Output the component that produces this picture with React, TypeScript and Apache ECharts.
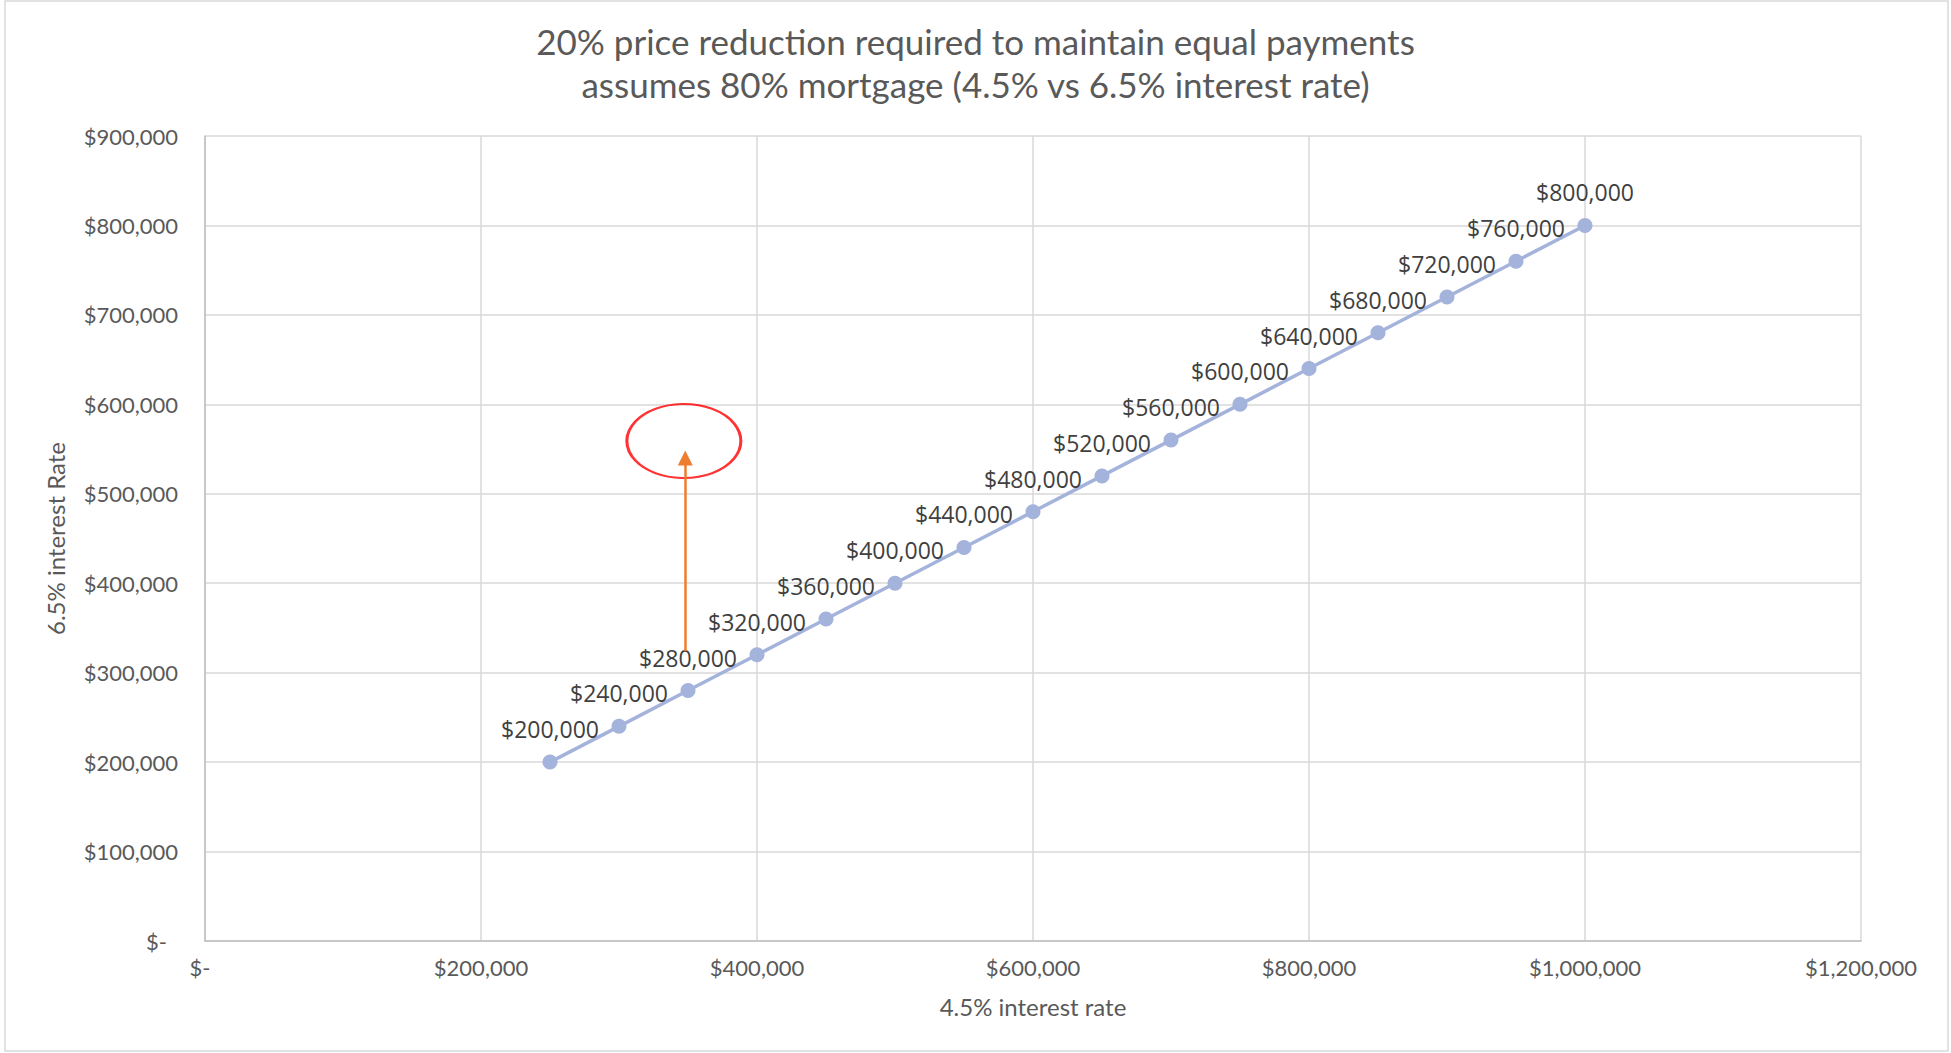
import React, { useEffect, useRef } from "react";
import * as echarts from "echarts";

const titleLines = [
  "20% price reduction required to maintain equal payments",
  "assumes 80% mortgage (4.5% vs 6.5% interest rate)",
];
const xAxisName = "4.5% interest rate";
const yAxisName = "6.5% interest Rate";

// price at 4.5% interest rate
const priceAt45 = [
  250000, 300000, 350000, 400000, 450000, 500000, 550000, 600000,
  650000, 700000, 750000, 800000, 850000, 900000, 950000, 1000000,
];
// equivalent price at 6.5% interest rate
const priceAt65 = [
  200000, 240000, 280000, 320000, 360000, 400000, 440000, 480000,
  520000, 560000, 600000, 640000, 680000, 720000, 760000, 800000,
];

const xAxisRange = { min: 0, max: 1200000, interval: 200000 };
const yAxisRange = { min: 0, max: 900000, interval: 100000 };

// annotation (data coordinates)
const arrowStart = [348000, 324000];
const arrowEnd = [348000, 540000];
const circleCenter = [347000, 559000];

const money = (v: number) => "$" + Math.round(v).toLocaleString("en-US");

export default function App() {
  const ref = useRef<HTMLDivElement>(null);
  useEffect(() => {
    if (!ref.current) return;
    const chart = echarts.init(ref.current, undefined, { renderer: "svg" });
    const points = priceAt45.map((x, i) => [x, priceAt65[i]]);
    const axisFont = { fontFamily: "Lato", fontSize: 22, color: "#595959" };
    chart.setOption({
      animation: false,
      backgroundColor: "#ffffff",
      title: {
        text: titleLines.join("\n"),
        left: "center",
        top: 14,
        textStyle: {
          fontFamily: "Lato",
          fontSize: 35,
          fontWeight: "normal",
          color: "#595959",
          lineHeight: 43,
        },
      },
      graphic: [
        {
          type: "rect",
          shape: { x: 5, y: 1, width: 1943, height: 1050 },
          style: { fill: "none", stroke: "#d9d9d9", lineWidth: 1.5 },
          silent: true,
        },
      ],
      grid: { left: 205, right: 90, top: 136, bottom: 112 },
      xAxis: {
        type: "value",
        ...xAxisRange,
        name: xAxisName,
        nameLocation: "middle",
        nameGap: 53,
        nameTextStyle: { fontFamily: "Lato", fontSize: 24, color: "#595959" },
        axisLine: { show: true, lineStyle: { color: "#bfbfbf", width: 1.5 } },
        axisTick: { show: false },
        splitLine: { show: true, lineStyle: { color: "#d9d9d9", width: 1.5 } },
        axisLabel: {
          margin: 15,
          ...axisFont,
          formatter: (v: number) => (v === 0 ? "{z|$-}" : money(v)),
          rich: { z: { ...axisFont, padding: [0, 10, 0, 0] } },
        },
      },
      yAxis: {
        type: "value",
        ...yAxisRange,
        name: yAxisName,
        nameLocation: "middle",
        nameGap: 138,
        nameTextStyle: { fontFamily: "Lato", fontSize: 24, color: "#595959" },
        axisLine: { show: true, lineStyle: { color: "#bfbfbf", width: 1.5 } },
        axisTick: { show: false },
        splitLine: { show: true, lineStyle: { color: "#d9d9d9", width: 1.5 } },
        axisLabel: {
          margin: 27,
          ...axisFont,
          formatter: (v: number) => (v === 0 ? "{z|$-}" : money(v)),
          rich: { z: { ...axisFont, padding: [0, 11, 0, 0] } },
        },
      },
      series: [
        {
          type: "line",
          data: points,
          symbol: "circle",
          symbolSize: 15,
          lineStyle: { color: "#a4b3dc", width: 3.5 },
          itemStyle: { color: "#a4b3dc" },
          label: {
            show: true,
            position: "top",
            distance: 14,
            fontFamily: "Open Sans",
            fontSize: 23,
            color: "#404040",
            formatter: (p: any) => money(p.value[1]),
          },
          markLine: {
            silent: true,
            symbol: ["none", "triangle"],
            symbolSize: 15,
            label: { show: false },
            lineStyle: { color: "#ed7d31", width: 2.5, type: "solid" },
            emphasis: { disabled: true },
            data: [[{ coord: arrowStart }, { coord: arrowEnd }]],
          },
          z: 3,
        },
        {
          type: "scatter",
          data: [circleCenter],
          symbol: "circle",
          symbolSize: [114, 74],
          itemStyle: { color: "rgba(0,0,0,0)", borderColor: "#ff0000", borderWidth: 2.5 },
          label: { show: false },
          silent: true,
          z: 4,
        },
      ],
    });
    return () => chart.dispose();
  }, []);
  return (
    <div
      ref={ref}
      style={{ position: "fixed", left: 0, top: 0, width: 1951, height: 1053 }}
    />
  );
}
